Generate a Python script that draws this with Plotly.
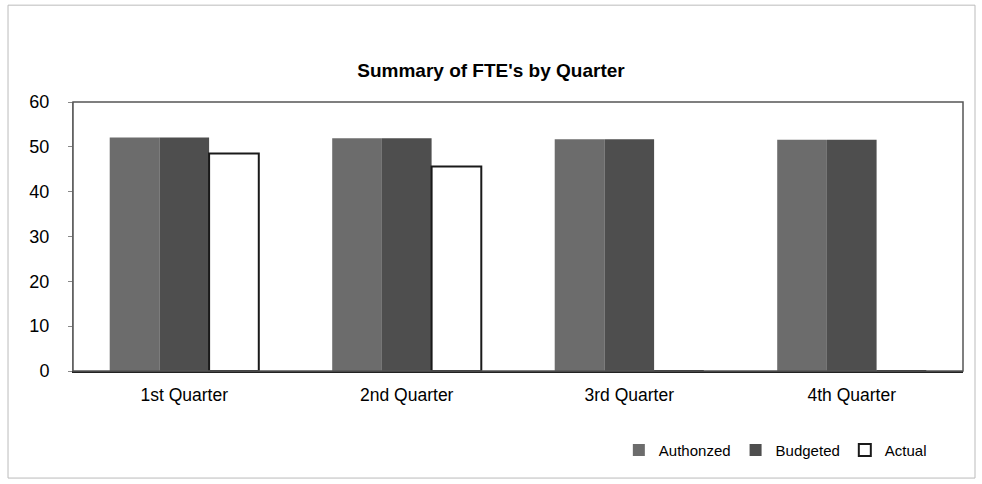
import plotly.graph_objects as go

quarters = ["1st Quarter", "2nd Quarter", "3rd Quarter", "4th Quarter"]
authorized = [52.1, 51.9, 51.7, 51.6]
budgeted = [52.1, 51.9, 51.7, 51.6]
actual = [48.5, 45.6, 0, 0]

fig = go.Figure()
fig.add_trace(go.Bar(name="Authonzed", x=quarters, y=authorized,
                     marker=dict(color="#6c6c6c", line=dict(color="#2a2a2a", width=0))))
fig.add_trace(go.Bar(name="Budgeted", x=quarters, y=budgeted,
                     marker=dict(color="#4e4e4e", line=dict(color="#2a2a2a", width=0))))
fig.add_trace(go.Bar(name="Actual", x=quarters, y=actual,
                     marker=dict(color="#ffffff", line=dict(color="#1a1a1a", width=2))))

fig.update_layout(
    width=982, height=484,
    barmode="group", bargap=0.33, bargroupgap=0,
    paper_bgcolor="white", plot_bgcolor="white",
    margin=dict(l=73, r=19, t=102, b=113),
    font=dict(family="Liberation Sans, Arial", size=14, color="#000"),
    title=dict(text="<b>Summary of FTE's by Quarter</b>", x=0.5, xanchor="center",
               y=0.855, yanchor="middle", font=dict(size=19, color="#000")),
    xaxis=dict(showline=True, linecolor="#222", linewidth=2, ticks="", showgrid=False,
               tickfont=dict(size=17.5), mirror=False, ticklabelstandoff=7),
    yaxis=dict(range=[0, 60], dtick=10, showgrid=False, showline=True, linecolor="#888",
               linewidth=1, ticks="outside", ticklen=4, tickcolor="#888", tickfont=dict(size=18),
               zeroline=False, ticklabelstandoff=15),
    legend=dict(orientation="h", x=0.965, xanchor="right", y=-0.295, yanchor="middle",
                font=dict(size=15), itemwidth=30, traceorder="normal"),
    showlegend=True,
)
# plot area frame
fig.add_shape(type="rect", xref="paper", yref="paper", x0=0, x1=1, y0=0, y1=1,
              line=dict(color="#555", width=1.5), layer="above")
# outer chart border
fig.add_shape(type="rect", xref="paper", yref="paper", x0=-0.073, x1=1.0135, y0=-0.398, y1=1.36,
              line=dict(color="#bbb", width=1), layer="below")

fig.write_html("out.html", config={"displayModeBar": False},
               post_script="document.body.style.margin='0';")
